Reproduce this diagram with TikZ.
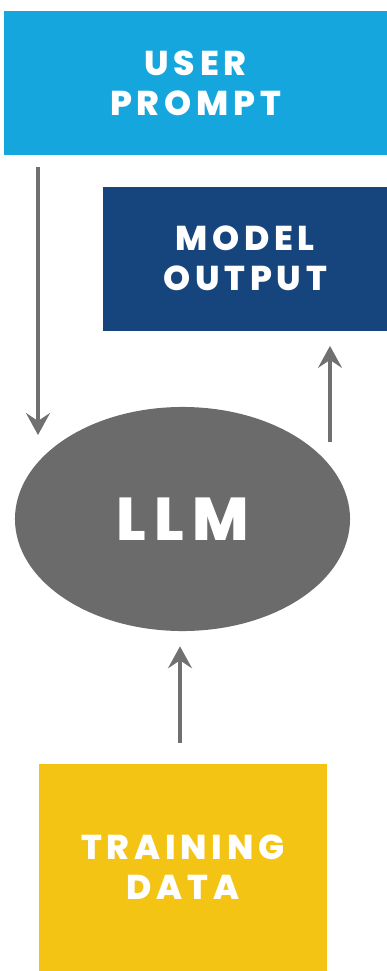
\documentclass[tikz,border=0pt]{standalone}
\usepackage{fontspec}
\usetikzlibrary{arrows.meta,positioning,shapes.geometric}
\newfontfamily\boxfont[LetterSpace=14,BoldFont={Poppins ExtraBold}]{Poppins}
\definecolor{PromptBlue}{HTML}{15A6DE}
\definecolor{OutputNavy}{HTML}{16457E}
\definecolor{LlmGray}{HTML}{6B6B6B}
\definecolor{DataYellow}{HTML}{F4C415}
\definecolor{ArrGray}{HTML}{707070}

\begin{document}
\begin{tikzpicture}[x=0.025cm,y=-0.025cm,
    box/.style={rectangle,inner sep=0pt,align=center,text=white,
      font=\boxfont\bfseries\fontsize{24.5}{28.5}\selectfont},
    arr/.style={-{Stealth[length=5.5mm,width=6mm,inset=2mm]},line width=2.2pt,ArrGray}
  ]
  \useasboundingbox (0,0) rectangle (387,971);
  \node[box,fill=PromptBlue,minimum width=9.575cm,minimum height=3.6cm] (prompt) at (195.5,83) {USER\\PROMPT};
  \node[box,fill=OutputNavy,minimum width=7.1cm,minimum height=3.6cm,below=0.775cm of prompt.south east,anchor=north east] (output) {MODEL\\OUTPUT};
  \node[ellipse,inner sep=0pt,fill=LlmGray,text=white,minimum width=8.375cm,minimum height=5.6cm,
    font=\boxfont\bfseries\fontsize{43}{43}\selectfont] (llm) at (182.5,519) {LLM};
  \node[box,fill=DataYellow,minimum width=7.2cm,minimum height=5.175cm] (data) at (183,867.5) {TRAINING\\DATA};
  % arrow ends
  \coordinate (inL) at (38,435);
  \coordinate (outR) at (330,442);
  \draw[arr,shorten <=0.3cm] (prompt.south -| inL) -- (inL);
  \draw[arr,shorten >=0.375cm] (outR) -- (outR |- output.south);
  \draw[arr,shorten <=0.525cm,shorten >=0.375cm] (data.north -| 180,0) -- (llm.south -| 180,0);
\end{tikzpicture}
\end{document}
